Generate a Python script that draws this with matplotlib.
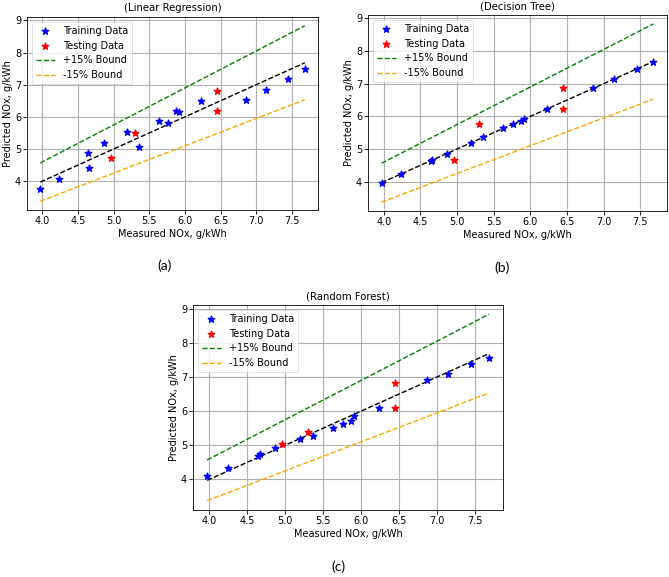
import matplotlib
matplotlib.use("Agg")
import matplotlib.pyplot as plt
import numpy as np

# Measured values
train_x = [3.97, 4.24, 4.64, 4.66, 4.86, 5.19, 5.36, 5.63, 5.76, 5.87, 5.91, 6.23, 6.86, 7.14, 7.45, 7.68]
test_x = [4.96, 5.30, 6.45, 6.45]

# Linear regression predictions
lr_train_y = [3.74, 4.08, 4.88, 4.40, 5.20, 5.53, 5.07, 5.86, 5.82, 6.19, 6.16, 6.48, 6.51, 6.84, 7.17, 7.50]
lr_test_y = [4.73, 5.49, 6.81, 6.19]

# Decision tree predictions
dt_train_y = [3.97, 4.24, 4.64, 4.66, 4.86, 5.19, 5.36, 5.63, 5.76, 5.87, 5.91, 6.23, 6.86, 7.14, 7.45, 7.68]
dt_test_y = [4.65, 5.77, 6.87, 6.23]

# Random forest predictions
rf_train_y = [4.10, 4.33, 4.68, 4.74, 4.92, 5.17, 5.28, 5.49, 5.62, 5.72, 5.84, 6.08, 6.90, 7.07, 7.37, 7.54]
rf_test_y = [5.04, 5.38, 6.83, 6.10]

titles = ["(Linear Regression)", "(Decision Tree)", "(Random Forest)"]
panel_labels = ["(a)", "(b)", "(c)"]

W, H = 669, 577
fig = plt.figure(figsize=(W / 100, H / 100), dpi=100)
fig.patch.set_facecolor("white")

FS = 7.0

def px_axes(l, t, r, b):
    return fig.add_axes([l / W, 1 - b / H, (r - l) / W, (b - t) / H])

def draw(ax, ty, tsy, title):
    ax.scatter(train_x, ty, marker="*", color="blue", s=24, label="Training Data", zorder=3)
    ax.scatter(test_x, tsy, marker="*", color="red", s=24, label="Testing Data", zorder=3)
    xs = np.array([min(train_x), max(train_x)])
    ax.plot(xs, xs, "k--", lw=1.0, zorder=2)
    ax.plot(xs, 1.15 * xs, "--", color="green", lw=1.0, label="+15% Bound", zorder=2)
    ax.plot(xs, 0.85 * xs, "--", color="orange", lw=1.0, label="-15% Bound", zorder=2)
    ax.set_title(title, fontsize=FS + 0.3, pad=4)
    ax.set_xlabel("Measured NOx, g/kWh", fontsize=FS, labelpad=2)
    ax.set_ylabel("Predicted NOx, g/kWh", fontsize=FS, labelpad=1)
    ax.tick_params(labelsize=FS, length=2.8, width=0.6, pad=1.5)
    ax.grid(True, color="#b0b0b0", lw=0.8)
    ax.set_axisbelow(True)
    ax.set_xticks([4.0, 4.5, 5.0, 5.5, 6.0, 6.5, 7.0, 7.5])
    ax.set_yticks([4, 5, 6, 7, 8, 9])
    for sp in ax.spines.values():
        sp.set_linewidth(0.6)
    leg = ax.legend(loc="upper left", fontsize=FS, framealpha=0.8, borderpad=0.4,
                    handlelength=2.0, labelspacing=0.5)
    leg.get_frame().set_linewidth(0.5)

ax1 = px_axes(27, 17, 318, 210)
draw(ax1, lr_train_y, lr_test_y, titles[0])
ax2 = px_axes(368, 15, 667, 211)
draw(ax2, dt_train_y, dt_test_y, titles[1])
ax3 = px_axes(193, 305, 503, 510)
draw(ax3, rf_train_y, rf_test_y, titles[2])

lab_font = dict(fontsize=10, family=["Lato", "DejaVu Sans"], ha="center", va="center")
fig.text(165 / W, 1 - 266 / H, panel_labels[0], **lab_font)
fig.text(502 / W, 1 - 268 / H, panel_labels[1], **lab_font)
fig.text(338 / W, 1 - 567 / H, panel_labels[2], **lab_font)

fig.savefig("out.png", dpi=100, facecolor="white")
